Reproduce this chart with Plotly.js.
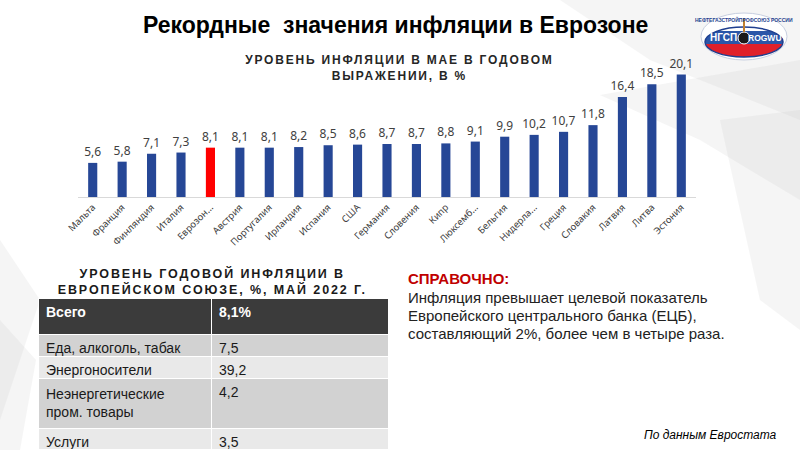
<!DOCTYPE html>
<html>
<head>
<meta charset="utf-8">
<script src="https://cdn.plot.ly/plotly-3.0.1.min.js"></script>
<style>
html,body{margin:0;padding:0;background:#fff;}
#chart{width:800px;height:450px;}
</style>
</head>
<body>
<div id="chart"></div>
<script>
// ---- Data ----
const countries = ['Мальта','Франция','Финляндия','Италия','Еврозон...','Австрия','Португалия','Ирландия','Испания','США','Германия','Словения','Кипр','Люксемб...','Бельгия','Нидерла...','Греция','Словакия','Латвия','Литва','Эстония'];
const inflation = [5.6,5.8,7.1,7.3,8.1,8.1,8.1,8.2,8.5,8.6,8.7,8.7,8.8,9.1,9.9,10.2,10.7,11.8,16.4,18.5,20.1];
const highlight = 'Еврозон...';

const tableHeader = ['Всего','8,1%'];
const tableCategories = ['Еда, алкоголь, табак','Энергоносители','Неэнергетические<br>пром. товары','Услуги'];
const tableValues = ['7,5','39,2','4,2','3,5'];

const mainTitle = 'Рекордные  значения инфляции в Еврозоне';
const chartTitle = 'УРОВЕНЬ ИНФЛЯЦИИ В МАЕ В ГОДОВОМ<br>ВЫРАЖЕНИИ, В %';
const tableTitle = 'УРОВЕНЬ ГОДОВОЙ ИНФЛЯЦИИ В<br>ЕВРОПЕЙСКОМ СОЮЗЕ, %, МАЙ 2022 Г.';
const noteHead = 'СПРАВОЧНО:';
const noteLines = ['Инфляция превышает целевой показатель','Европейского центрального банка (ЕЦБ),','составляющий 2%, более чем в четыре раза.'];
const source = 'По данным Евростата';

// ---- pixel -> paper helpers (margins are zero, so paper == full figure) ----
const W = 800, H = 450;
const px = x => x / W;
const py = y => 1 - y / H;

function ellipseBand(cx, cy, rx, ry, y1, y2) {
  const n = 24, pts = [];
  for (let i = 0; i <= n; i++) {
    const y = y1 + (y2 - y1) * i / n;
    const t = Math.max(0, 1 - Math.pow((y - cy) / ry, 2));
    pts.push([cx + rx * Math.sqrt(t), y]);
  }
  for (let i = n; i >= 0; i--) {
    const y = y1 + (y2 - y1) * i / n;
    const t = Math.max(0, 1 - Math.pow((y - cy) / ry, 2));
    pts.push([cx - rx * Math.sqrt(t), y]);
  }
  return 'M' + pts.map(p => px(p[0]).toFixed(4) + ',' + py(p[1]).toFixed(4)).join('L') + 'Z';
}
function poly(points) {
  return 'M' + points.map(p => px(p[0]).toFixed(4) + ',' + py(p[1]).toFixed(4)).join('L') + 'Z';
}

const cx = 744, cy = 42, rx = 39, ry = 15;
const grey = 'rgba(190,190,190,0.16)';
const shapes = [
  {type:'path', xref:'paper', yref:'paper', layer:'below', path: poly([[560,0],[800,0],[800,120],[650,60]]), fillcolor:grey, line:{width:0}},
  {type:'path', xref:'paper', yref:'paper', layer:'below', path: poly([[600,95],[800,60],[800,200],[700,140]]), fillcolor:grey, line:{width:0}},
  {type:'path', xref:'paper', yref:'paper', layer:'below', path: poly([[720,120],[800,110],[800,330],[760,300]]), fillcolor:grey, line:{width:0}},
  {type:'path', xref:'paper', yref:'paper', layer:'below', path: poly([[0,240],[40,300],[0,420]]), fillcolor:grey, line:{width:0}},
  {type:'path', xref:'paper', yref:'paper', layer:'below', path: poly([[0,320],[36,360],[20,450],[0,450]]), fillcolor:grey, line:{width:0}},
  // logo
  {type:'circle', xref:'paper', yref:'paper', x0:px(cx-rx-4), x1:px(cx+rx+4), y0:py(cy+ry+3), y1:py(cy-ry-14), fillcolor:'#ffffff', line:{color:'#c8cfe0', width:1}},
  {type:'path', xref:'paper', yref:'paper', path: ellipseBand(cx,cy,rx,ry,cy-ry,cy-11), fillcolor:'#ffffff', line:{width:0}},
  {type:'path', xref:'paper', yref:'paper', path: ellipseBand(cx,cy,rx,ry,cy-11,cy+2), fillcolor:'#2a56a8', line:{width:0}},
  {type:'path', xref:'paper', yref:'paper', path: ellipseBand(cx,cy,rx,ry,cy+2,cy+ry), fillcolor:'#e0202a', line:{width:0}},
  {type:'circle', xref:'paper', yref:'paper', x0:px(cx-rx), x1:px(cx+rx), y0:py(cy+ry), y1:py(cy-ry), fillcolor:'rgba(0,0,0,0)', line:{color:'#1f3f8f', width:1.5}},
  {type:'circle', xref:'paper', yref:'paper', x0:px(cx-6), x1:px(cx+6), y0:py(cy+2), y1:py(cy-10), fillcolor:'#1a1a1a', line:{color:'#fff', width:1}},
  {type:'line', xref:'paper', yref:'paper', x0:px(cx), x1:px(cx), y0:py(cy-10), y1:py(cy-24), line:{color:'#c08030', width:2}}
];

const barColors = countries.map(c => c === highlight ? '#ff0000' : '#264796');

const data = [
  {
    type:'bar',
    x: countries,
    y: inflation,
    marker:{color: barColors},
    texttemplate:'%{y:.1f}',
    textposition:'outside',
    constraintext:'none',
    textfont:{family:'Noto Sans, Open Sans, sans-serif', size:12, color:'#404040'},
    cliponaxis:false,
    hoverinfo:'skip'
  },
  {
    type:'table',
    domain:{x:[px(38), px(388)], y:[0, py(298)]},
    columnwidth:[173,177],
    header:{
      values: tableHeader,
      align:'left',
      height:36,
      fill:{color:'#3b3b3b'},
      line:{color:'#ffffff', width:1},
      font:{family:'Liberation Sans, Arial, sans-serif', size:14, color:'#ffffff', weight:'bold'}
    },
    cells:{
      values:[tableCategories, tableValues],
      align:'left',
      height:22,
      fill:{color:[['#d2d2d2','#e9e9e9','#d2d2d2','#e9e9e9'],['#d2d2d2','#e9e9e9','#d2d2d2','#e9e9e9']]},
      line:{color:'#ffffff', width:1},
      font:{family:'Liberation Sans, Arial, sans-serif', size:14, color:'#1a1a1a'}
    }
  }
];

const annotations = [
  {xref:'paper', yref:'paper', x:px(395), y:py(25), xanchor:'center', yanchor:'middle', showarrow:false, text:'<b>'+mainTitle+'</b>', font:{family:'Liberation Sans, Arial, sans-serif', size:23, color:'#000'}},
  {xref:'paper', yref:'paper', x:px(399), y:py(68), xanchor:'center', yanchor:'middle', showarrow:false, text:'<b>'+chartTitle+'</b>', font:{family:'Liberation Sans, Arial, sans-serif', size:12, color:'#262626'}},
  {xref:'paper', yref:'paper', x:px(212), y:py(281), xanchor:'center', yanchor:'middle', showarrow:false, text:'<b>'+tableTitle+'</b>', font:{family:'Liberation Sans, Arial, sans-serif', size:12.5, color:'#1a1a1a'}},
  {xref:'paper', yref:'paper', x:px(406), y:py(278), xanchor:'left', yanchor:'middle', showarrow:false, text:'<b>'+noteHead+'</b>', font:{family:'Liberation Sans, Arial, sans-serif', size:15, color:'#c00000'}},
  {xref:'paper', yref:'paper', x:px(642), y:py(435), xanchor:'left', yanchor:'middle', showarrow:false, text:'<i>'+source+'</i>', font:{family:'Liberation Sans, Arial, sans-serif', size:12, color:'#000'}},
  {xref:'paper', yref:'paper', x:px(cx-21), y:py(cy-4), xanchor:'center', yanchor:'middle', showarrow:false, text:'<b>НГСП</b>', font:{family:'Liberation Sans, Arial, sans-serif', size:10, color:'#ffffff'}},
  {xref:'paper', yref:'paper', x:px(cx+21), y:py(cy-4), xanchor:'center', yanchor:'middle', showarrow:false, text:'<b>ROGWU</b>', font:{family:'Liberation Sans, Arial, sans-serif', size:8.5, color:'#ffffff'}},
  {xref:'paper', yref:'paper', x:px(cx), y:py(19), xanchor:'center', yanchor:'middle', showarrow:false, text:'<b>НЕФТЕГАЗСТРОЙПРОФСОЮЗ РОССИИ</b>', font:{family:'Liberation Sans, Arial, sans-serif', size:5, color:'#1f3f8f'}}
];
noteLines.forEach((t, i) => {
  annotations.push({xref:'paper', yref:'paper', x:px(406), y:py(297+18*i), xanchor:'left', yanchor:'middle', showarrow:false, text:t, font:{family:'Liberation Sans, Arial, sans-serif', size:15, color:'#222222'}});
});

const layout = {
  width:W, height:H, autosize:false,
  margin:{l:0, r:0, t:0, b:0, pad:0},
  paper_bgcolor:'#ffffff', plot_bgcolor:'rgba(0,0,0,0)',
  separators:',.',
  showlegend:false,
  bargap:0.69,
  xaxis:{
    type:'category',
    domain:[px(78), px(696)],
    tickangle:-45,
    showline:true, linecolor:'#d9d9d9', linewidth:1,
    showgrid:false, zeroline:false, ticks:'',
    tickfont:{family:'Noto Sans, Open Sans, sans-serif', size:9.5, color:'#404040'},
    automargin:false,
    fixedrange:true
  },
  yaxis:{
    domain:[py(197), py(63)],
    range:[0,22], visible:false, showgrid:false, zeroline:false, fixedrange:true
  },
  shapes: shapes,
  annotations: annotations
};

Plotly.newPlot('chart', data, layout, {displayModeBar:false, staticPlot:true}).then(() => {
  const ann = document.querySelectorAll('.annotation');
  [1,2].forEach(i => {
    const el = ann[i] && ann[i].querySelector('text.annotation-text');
    if (el) el.style.letterSpacing = i === 1 ? '1.8px' : '1.9px';
  });
});
</script>
</body>
</html>
